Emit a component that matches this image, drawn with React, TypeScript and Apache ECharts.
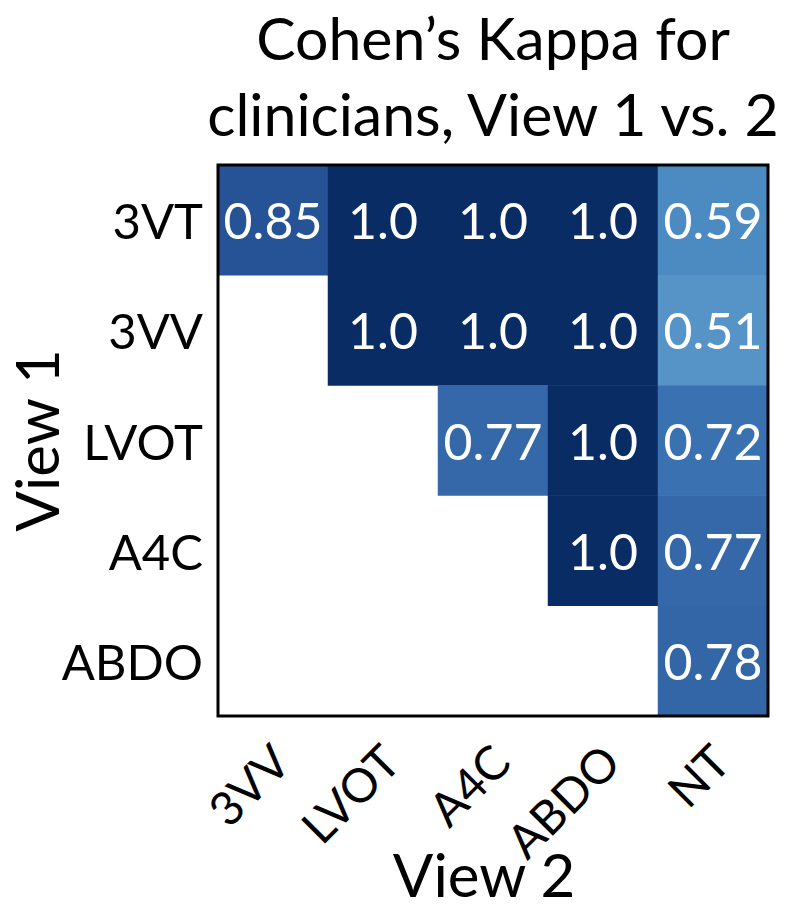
import React, { useEffect, useRef } from "react";
import * as echarts from "echarts";

const view2Categories = ["3VV", "LVOT", "A4C", "ABDO", "NT"];
const view1Categories = ["3VT", "3VV", "LVOT", "A4C", "ABDO"];
// each row: values for view2 columns (null = empty)
const row3VT = [0.85, 1.0, 1.0, 1.0, 0.59];
const row3VV = [null, 1.0, 1.0, 1.0, 0.51];
const rowLVOT = [null, null, 0.77, 1.0, 0.72];
const rowA4C = [null, null, null, 1.0, 0.77];
const rowABDO = [null, null, null, null, 0.78];
const rows = [row3VT, row3VV, rowLVOT, rowA4C, rowABDO];
const titleLines = ["Cohen\u2019s Kappa for", "clinicians, View 1 vs. 2"];

const FONT = "Lato, 'Open Sans', sans-serif";

export default function App() {
  const ref = useRef<HTMLDivElement>(null);
  useEffect(() => {
    if (!ref.current) return;
    const chart = echarts.init(ref.current, null, { renderer: "svg" });
    const data: any[] = [];
    rows.forEach((r, yi) =>
      r.forEach((v, xi) => {
        if (v !== null) data.push([xi, yi, v]);
      })
    );
    const gl = 218, gt = 165, gw = 550, gh = 551;
    chart.setOption({
      animation: false,
      textStyle: { fontFamily: FONT },
      title: titleLines.map((t, i) => ({
        text: t,
        left: gl + gw / 2,
        textAlign: "center",
        top: 8 + i * 76,
        padding: 0,
        textStyle: { fontFamily: FONT, fontWeight: "normal", fontSize: 59, lineHeight: 59, color: "#000" },
      })),
      grid: { left: gl, top: gt, width: gw, height: gh, containLabel: false, outerBoundsMode: "none" },
      xAxis: {
        type: "category",
        data: view2Categories,
        name: "View 2",
        nameLocation: "middle",
        nameGap: 128,
        nameMoveOverlap: false,
        nameTextStyle: { fontFamily: FONT, fontSize: 60, color: "#000", padding: [0, 18, 0, 0] },
        axisLine: { show: false },
        axisTick: { show: false },
        splitLine: { show: false },
        axisLabel: {
          rotate: 45,
          fontSize: 47,
          color: "#000",
          margin: 8,
          align: "right",
          verticalAlign: "top",
          padding: [2, 15, 0, 0],
          fontFamily: FONT,
        },
      },
      yAxis: {
        type: "category",
        data: view1Categories,
        inverse: true,
        name: "View 1",
        nameLocation: "middle",
        nameGap: 152,
        nameMoveOverlap: false,
        nameRotate: 90,
        nameTextStyle: { fontFamily: FONT, fontSize: 60, color: "#000" },
        axisLine: { show: false },
        axisTick: { show: false },
        splitLine: { show: false },
        axisLabel: { fontSize: 49, color: "#000", margin: 15, fontFamily: FONT },
      },
      visualMap: {
        show: false,
        type: "continuous",
        min: 0.5,
        max: 1.0,
        dimension: 2,
        inRange: {
          color: [
            "#5795c9", "#5291c6", "#4b89c1", "#4480bb", "#3c74b2", "#376dad",
            "#2f61a2", "#255396", "#1b4584", "#123873", "#0a2c64",
          ],
        },
      },
      series: [
        {
          type: "heatmap",
          data,
          label: {
            show: true,
            color: "#fff",
            fontSize: 50,
            fontFamily: FONT,
            formatter: (p: any) => (p.value[2] === 1 ? "1.0" : String(p.value[2])),
          },
          itemStyle: { borderWidth: 0 },
        },
      ],
      graphic: [
        {
          type: "rect",
          shape: { x: gl, y: gt, width: gw, height: gh },
          style: { fill: "none", stroke: "#000", lineWidth: 3 },
          z: 100,
        },
      ],
    });
    return () => chart.dispose();
  }, []);
  return (
    <div
      ref={ref}
      style={{ position: "absolute", left: 0, top: 0, width: 787, height: 914, background: "#fff" }}
    />
  );
}
